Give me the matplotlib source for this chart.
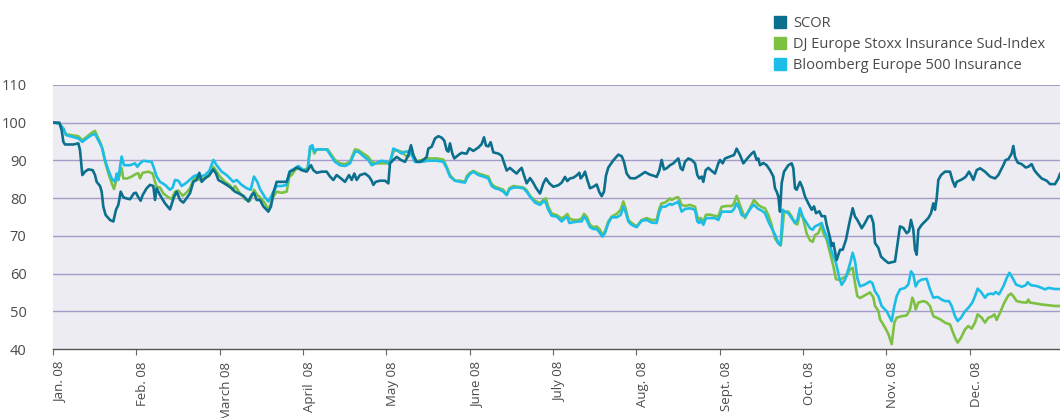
import matplotlib.pyplot as plt
from matplotlib.lines import Line2D

plt.rcParams['font.family'] = ['Open Sans', 'DejaVu Sans']

# x = position in months from 1 Jan 2008 (each month equally wide on the chart)
month_labels = ['Jan. 08', 'Feb. 08', 'March 08', 'April  08', 'May 08', 'June 08',
                'July 08', 'Aug. 08', 'Sept. 08', 'Oct. 08', 'Nov. 08', 'Dec. 08']

scor_x = [0.012, 0.076, 0.104, 0.124, 0.144, 0.244, 0.304, 0.324, 0.352, 0.384, 0.424, 0.476,
          0.504, 0.524, 0.564, 0.584, 0.604, 0.632, 0.684, 0.724, 0.756, 0.784, 0.812, 0.844,
          0.884, 0.924, 0.972, 0.996, 1.024, 1.052, 1.076, 1.124, 1.164, 1.204, 1.224, 1.244,
          1.284, 1.344, 1.404, 1.452, 1.484, 1.524, 1.564, 1.604, 1.644, 1.684, 1.724, 1.756,
          1.784, 1.824, 1.876, 1.924, 1.956, 1.984, 2.024, 2.084, 2.144, 2.184, 2.224, 2.284,
          2.344, 2.384, 2.412, 2.444, 2.484, 2.524, 2.584, 2.616, 2.644, 2.684, 2.744, 2.804,
          2.844, 2.884, 2.924, 2.984, 3.044, 3.096, 3.124, 3.164, 3.224, 3.284, 3.324, 3.364,
          3.404, 3.456, 3.504, 3.552, 3.584, 3.616, 3.644, 3.684, 3.744, 3.792, 3.824, 3.844,
          3.872, 3.924, 3.984, 4.024, 4.044, 4.084, 4.124, 4.176, 4.224, 4.264, 4.296, 4.324,
          4.364, 4.404, 4.444, 4.484, 4.504, 4.544, 4.584, 4.624, 4.664, 4.696, 4.724, 4.744,
          4.764, 4.792, 4.816, 4.864, 4.904, 4.944, 4.964, 4.996, 5.044, 5.104, 5.144, 5.172,
          5.196, 5.224, 5.252, 5.284, 5.344, 5.384, 5.424, 5.444, 5.484, 5.524, 5.564, 5.596,
          5.624, 5.652, 5.684, 5.724, 5.756, 5.796, 5.844, 5.884, 5.916, 5.956, 6.004, 6.064,
          6.104, 6.144, 6.172, 6.204, 6.244, 6.284, 6.316, 6.332, 6.364, 6.384, 6.412, 6.444,
          6.484, 6.524, 6.556, 6.584, 6.612, 6.636, 6.664, 6.724, 6.784, 6.824, 6.852, 6.884,
          6.924, 6.984, 7.044, 7.104, 7.164, 7.212, 7.244, 7.276, 7.304, 7.332, 7.364, 7.404,
          7.444, 7.484, 7.504, 7.532, 7.556, 7.584, 7.624, 7.664, 7.704, 7.732, 7.756, 7.784,
          7.804, 7.832, 7.864, 7.904, 7.944, 7.984, 8.004, 8.036, 8.064, 8.124, 8.172, 8.204,
          8.244, 8.284, 8.332, 8.384, 8.412, 8.444, 8.464, 8.484, 8.524, 8.564, 8.604, 8.644,
          8.664, 8.684, 8.704, 8.724, 8.744, 8.772, 8.824, 8.864, 8.884, 8.904, 8.924, 8.964,
          8.996, 9.024, 9.064, 9.104, 9.132, 9.156, 9.196, 9.224, 9.264, 9.284, 9.324, 9.344,
          9.364, 9.384, 9.404, 9.444, 9.476, 9.516, 9.556, 9.596, 9.624, 9.652, 9.684, 9.704,
          9.744, 9.784, 9.816, 9.844, 9.864, 9.904, 9.936, 9.984, 10.024, 10.064, 10.104, 10.136,
          10.164, 10.204, 10.244, 10.272, 10.296, 10.324, 10.344, 10.364, 10.384, 10.424, 10.464,
          10.504, 10.536, 10.564, 10.584, 10.604, 10.624, 10.656, 10.704, 10.764, 10.792, 10.824,
          10.844, 10.904, 10.952, 10.992, 11.016, 11.044, 11.084, 11.124, 11.184, 11.244, 11.304,
          11.344, 11.404, 11.432, 11.464, 11.504, 11.524, 11.544, 11.576, 11.624, 11.672, 11.704,
          11.744, 11.776, 11.816, 11.864, 11.924, 11.964, 12.024, 12.064, 12.084]
scor = [100, 100, 98.0, 94.9, 94.2, 94.2, 94.5, 92.7, 86.1, 87.0, 87.6, 87.4,
        86.1, 84.3, 83.2, 81.7, 77.7, 75.5, 74.2, 73.8, 76.9, 78.2, 81.7, 80.2,
        79.9, 79.7, 81.3, 81.4, 80.2, 79.3, 80.8, 82.6, 83.5, 83.2, 79.5, 82.6,
        80.8, 78.6, 77.0, 80.3, 81.7, 79.5, 78.8, 80.0, 81.3, 84.3, 84.8, 86.7,
        84.3, 85.2, 86.1, 87.6, 86.5, 84.8, 84.3, 83.5, 82.6, 81.7, 81.3, 80.6,
        79.1, 80.8, 81.4, 79.5, 79.5, 77.8, 76.4, 77.8, 81.3, 84.3, 84.3, 84.3,
        87.0, 87.4, 88.1, 87.4, 87.0, 88.7, 87.4, 86.7, 87.0, 87.0, 85.7, 84.8,
        86.1, 85.2, 84.3, 86.1, 84.8, 86.5, 84.8, 86.1, 86.5, 85.7, 84.6, 83.5,
        84.3, 84.6, 84.6, 83.9, 89.2, 90.1, 90.9, 90.1, 89.6, 91.4, 94.0, 91.4,
        89.6, 89.6, 90.1, 90.9, 93.1, 93.6, 95.8, 96.4, 96.0, 95.2, 92.7, 92.3,
        94.5, 91.8, 90.5, 91.4, 92.0, 91.8, 91.8, 93.2, 92.5, 93.4, 94.3, 96.1,
        93.9, 93.7, 94.8, 92.1, 91.8, 91.2, 88.6, 87.3, 88.0, 87.2, 86.5, 87.4,
        88.0, 86.0, 83.9, 85.3, 84.3, 82.7, 81.2, 83.9, 85.2, 83.9, 83.0, 83.4,
        84.1, 85.6, 84.5, 85.2, 85.4, 86.0, 86.7, 85.2, 86.1, 87.0, 84.8, 82.6,
        83.0, 83.6, 81.6, 80.5, 81.7, 86.0, 88.1, 90.0, 91.5, 91.1, 89.6, 86.5,
        85.3, 85.2, 86.0, 86.9, 86.2, 85.9, 85.6, 87.3, 90.1, 87.6, 87.9, 88.7,
        89.2, 90.1, 90.5, 87.9, 87.4, 89.6, 90.5, 90.1, 89.2, 86.1, 85.2, 85.7,
        84.3, 87.4, 88.0, 87.2, 86.5, 89.2, 90.1, 89.2, 90.5, 91.0, 91.4, 93.1,
        91.4, 89.2, 90.5, 91.8, 92.3, 90.1, 90.5, 88.7, 89.3, 88.7, 87.4, 85.7,
        82.6, 81.7, 80.4, 76.4, 83.9, 87.0, 88.7, 89.2, 87.9, 82.6, 82.2, 84.3,
        82.6, 80.4, 78.6, 76.9, 77.8, 76.0, 76.5, 75.2, 75.2, 72.9, 69.5, 67.3,
        68.1, 65.9, 63.6, 66.3, 66.3, 69.0, 73.4, 77.3, 75.1, 74.2, 72.9, 72.0,
        73.4, 75.1, 75.3, 73.4, 68.1, 66.8, 64.5, 63.5, 62.8, 63.0, 63.2, 68.1,
        72.5, 72.1, 70.7, 71.2, 74.2, 71.6, 66.3, 65.0, 71.6, 72.9, 73.8,
        74.7, 76.0, 78.6, 76.9, 79.9, 84.8, 86.1, 87.0, 87.0, 84.8, 83.0,
        84.3, 84.9, 85.6, 87.0, 86.1, 84.8, 87.4, 87.9, 87.0, 85.7, 85.2,
        86.1, 88.7, 90.1, 90.3, 91.8, 93.8, 90.9, 89.4, 89.0, 88.1, 88.3,
        89.0, 87.4, 86.3, 85.2, 84.6, 83.7, 83.7, 85.2, 86.4]

dj_x = [0.012, 0.076, 0.124, 0.156, 0.304, 0.352, 0.404, 0.464, 0.504, 0.524, 0.564, 0.596,
        0.624, 0.664, 0.704, 0.732, 0.764, 0.796, 0.824, 0.844, 0.892, 0.944, 0.996, 1.024,
        1.044, 1.076, 1.144, 1.196, 1.224, 1.244, 1.284, 1.324, 1.384, 1.424, 1.464, 1.504,
        1.556, 1.604, 1.644, 1.684, 1.724, 1.756, 1.804, 1.876, 1.924, 1.964, 2.004, 2.064,
        2.124, 2.156, 2.184, 2.244, 2.304, 2.364, 2.412, 2.452, 2.484, 2.544, 2.584, 2.616,
        2.644, 2.684, 2.744, 2.804, 2.836, 2.864, 2.904, 2.944, 3.004, 3.056, 3.084, 3.112,
        3.136, 3.164, 3.224, 3.296, 3.344, 3.384, 3.444, 3.504, 3.564, 3.624, 3.664, 3.724,
        3.784, 3.824, 3.872, 3.944, 4.004, 4.032, 4.056, 4.084, 4.124, 4.184, 4.224, 4.264,
        4.304, 4.344, 4.424, 4.504, 4.604, 4.684, 4.724, 4.764, 4.824, 4.884, 4.944, 4.964,
        5.004, 5.044, 5.104, 5.164, 5.224, 5.264, 5.304, 5.356, 5.404, 5.444, 5.476, 5.524,
        5.584, 5.644, 5.684, 5.724, 5.784, 5.844, 5.892, 5.916, 5.944, 5.984, 6.044, 6.104,
        6.144, 6.172, 6.196, 6.244, 6.304, 6.344, 6.372, 6.404, 6.444, 6.484, 6.524, 6.564,
        6.592, 6.624, 6.664, 6.704, 6.764, 6.812, 6.844, 6.876, 6.904, 6.944, 7.004, 7.064,
        7.124, 7.184, 7.244, 7.276, 7.304, 7.344, 7.384, 7.404, 7.424, 7.484, 7.504, 7.544,
        7.584, 7.644, 7.704, 7.732, 7.756, 7.772, 7.804, 7.836, 7.884, 7.944, 7.984, 8.024,
        8.084, 8.144, 8.172, 8.204, 8.236, 8.264, 8.304, 8.344, 8.384, 8.412, 8.464, 8.504,
        8.544, 8.584, 8.624, 8.664, 8.704, 8.732, 8.756, 8.772, 8.824, 8.864, 8.904, 8.932,
        8.964, 8.996, 9.044, 9.084, 9.116, 9.144, 9.184, 9.224, 9.244, 9.284, 9.324, 9.364,
        9.396, 9.444, 9.484, 9.524, 9.564, 9.596, 9.624, 9.652, 9.684, 9.724, 9.764, 9.804,
        9.844, 9.864, 9.904, 9.924, 9.984, 10.024, 10.064, 10.096, 10.124, 10.184, 10.244,
        10.284, 10.312, 10.336, 10.352, 10.384, 10.444, 10.484, 10.524, 10.564, 10.604, 10.644,
        10.704, 10.764, 10.824, 10.856, 10.896, 10.944, 10.984, 11.024, 11.064, 11.096, 11.144,
        11.184, 11.224, 11.264, 11.296, 11.324, 11.364, 11.416, 11.464, 11.496, 11.524, 11.564,
        11.624, 11.684, 11.704, 11.724, 11.784, 11.864, 11.944, 12.024, 12.084]
dj = [100, 99.7, 98.4, 96.9, 96.4, 95.3, 96.2, 97.3, 97.8, 96.7, 94.9, 92.9,
      89.7, 86.6, 84.0, 82.4, 85.2, 85.7, 87.9, 85.2, 85.2, 85.7, 86.4, 86.6,
      85.2, 86.7, 87.0, 86.5, 84.3, 83.0, 82.8, 81.2, 80.2, 79.7, 81.7, 82.0,
      80.6, 81.5, 82.6, 84.8, 85.7, 84.8, 85.2, 85.9, 88.3, 87.0, 85.7, 84.3,
      83.4, 82.1, 83.2, 81.3, 79.7, 79.3, 82.2, 80.8, 80.2, 78.6, 76.9, 78.6,
      80.4, 81.7, 81.4, 81.7, 85.7, 86.1, 87.4, 88.1, 87.4, 87.9, 92.7, 93.6,
      91.8, 92.9, 92.9, 92.9, 91.4, 90.1, 89.2, 89.0, 89.6, 92.9, 92.7, 91.8,
      90.9, 89.6, 89.2, 89.2, 89.2, 89.6, 90.1, 92.3, 92.7, 92.3, 91.4, 90.9,
      92.9, 89.6, 90.1, 90.5, 90.5, 90.2, 88.3, 86.1, 84.6, 84.6, 84.3, 85.8,
      86.7, 87.2, 86.5, 86.1, 85.7, 83.7, 83.0, 82.6, 82.2, 80.8, 82.6, 83.2,
      83.0, 82.8, 82.1, 80.6, 79.3, 78.6, 79.7, 79.9, 77.7, 75.9, 75.5, 74.6,
      75.2, 75.8, 74.6, 74.2, 74.2, 74.6, 75.8, 75.1, 72.9, 72.3, 72.5, 71.6,
      70.3, 71.2, 73.8, 75.1, 75.8, 76.9, 79.1, 76.9, 74.2, 73.4, 72.5, 74.2,
      74.7, 74.2, 74.2, 77.3, 78.6, 78.8, 79.5, 79.9, 79.5, 80.2, 80.2, 78.2,
      77.9, 78.2, 77.7, 75.1, 74.2, 74.7, 73.8, 75.6, 75.6, 75.3, 75.1, 77.7,
      77.9, 77.9, 78.6, 80.6, 78.6, 76.9, 74.7, 76.4, 78.2, 79.5, 78.2, 77.6,
      77.3, 75.5, 72.9, 69.3, 68.0, 67.4, 72.3, 76.4, 76.4, 75.1, 73.4, 73.0,
      76.0, 75.1, 70.6, 68.8, 68.4, 70.2, 70.7, 72.9, 70.7, 69.0, 65.5, 62.0,
      58.5, 58.3, 58.9, 59.3, 61.1, 61.5, 57.5, 54.0, 53.5, 54.0, 54.5, 55.0,
      53.7, 51.4, 50.1, 47.9, 45.7, 44.0, 41.3, 47.0, 48.3, 48.7, 48.9,
      50.5, 53.6, 52.3, 50.5, 52.3, 52.7, 52.4, 51.4, 48.7, 48.3, 47.9,
      47.0, 46.5, 43.0, 41.7, 43.0, 45.2, 46.1, 45.4, 47.0, 49.2, 48.3,
      47.0, 48.3, 48.6, 49.2, 47.7, 49.6, 52.3, 54.2, 54.7, 54.0, 52.7,
      52.4, 52.3, 53.1, 52.3, 52.1, 51.8, 51.6, 51.4, 51.4]

bb_x = [0.012, 0.076, 0.124, 0.156, 0.304, 0.352, 0.404, 0.464, 0.504, 0.544, 0.584, 0.624,
        0.664, 0.704, 0.744, 0.764, 0.784, 0.804, 0.824, 0.852, 0.924, 0.984, 1.012, 1.044,
        1.084, 1.184, 1.212, 1.244, 1.284, 1.344, 1.404, 1.436, 1.464, 1.504, 1.544, 1.604,
        1.684, 1.724, 1.764, 1.824, 1.876, 1.924, 1.964, 2.024, 2.084, 2.124, 2.164, 2.204,
        2.264, 2.324, 2.372, 2.412, 2.452, 2.484, 2.544, 2.584, 2.616, 2.644, 2.684, 2.744,
        2.804, 2.836, 2.864, 2.904, 2.944, 3.004, 3.056, 3.084, 3.112, 3.136, 3.164, 3.224,
        3.284, 3.344, 3.384, 3.444, 3.504, 3.564, 3.624, 3.664, 3.724, 3.784, 3.824, 3.872,
        3.944, 4.004, 4.032, 4.056, 4.084, 4.124, 4.184, 4.224, 4.272, 4.304, 4.344, 4.424,
        4.504, 4.604, 4.684, 4.724, 4.764, 4.824, 4.884, 4.944, 4.964, 5.004, 5.044, 5.104,
        5.164, 5.224, 5.264, 5.304, 5.356, 5.404, 5.444, 5.476, 5.524, 5.584, 5.644, 5.684,
        5.724, 5.784, 5.844, 5.892, 5.916, 5.944, 5.984, 6.044, 6.104, 6.144, 6.172, 6.196,
        6.244, 6.304, 6.344, 6.372, 6.404, 6.444, 6.484, 6.524, 6.564, 6.592, 6.624, 6.664,
        6.704, 6.764, 6.812, 6.844, 6.876, 6.904, 6.944, 7.004, 7.064, 7.124, 7.184, 7.244,
        7.276, 7.304, 7.344, 7.384, 7.404, 7.424, 7.484, 7.504, 7.544, 7.584, 7.644, 7.704,
        7.732, 7.756, 7.772, 7.804, 7.836, 7.884, 7.944, 7.984, 8.024, 8.084, 8.144, 8.172,
        8.204, 8.236, 8.264, 8.304, 8.344, 8.384, 8.412, 8.464, 8.504, 8.544, 8.584, 8.624,
        8.664, 8.704, 8.732, 8.756, 8.784, 8.824, 8.864, 8.904, 8.932, 8.964, 8.996, 9.044,
        9.084, 9.116, 9.144, 9.184, 9.224, 9.244, 9.284, 9.324, 9.364, 9.396, 9.436, 9.464,
        9.504, 9.544, 9.572, 9.596, 9.624, 9.652, 9.684, 9.744, 9.804, 9.832, 9.864, 9.904,
        9.944, 10.004, 10.044, 10.064, 10.096, 10.124, 10.164, 10.224, 10.264, 10.296, 10.324,
        10.352, 10.384, 10.424, 10.484, 10.524, 10.564, 10.616, 10.664, 10.704, 10.752, 10.784,
        10.824, 10.856, 10.896, 10.944, 10.984, 11.032, 11.064, 11.096, 11.136, 11.184, 11.216,
        11.264, 11.284, 11.312, 11.352, 11.404, 11.444, 11.476, 11.516, 11.556, 11.624, 11.672,
        11.696, 11.736, 11.804, 11.864, 11.904, 11.944, 12.024, 12.084]
bb = [100, 99.7, 98.4, 96.7, 95.8, 94.9, 95.8, 96.7, 97.0, 95.3, 93.6, 90.1,
      87.4, 85.2, 84.3, 86.5, 84.8, 88.3, 91.0, 88.7, 88.7, 89.2, 88.3, 89.2,
      89.9, 89.6, 87.9, 85.7, 84.3, 83.5, 82.2, 82.8, 84.8, 84.6, 83.2, 84.1,
      85.7, 86.1, 85.7, 86.1, 87.2, 90.1, 88.7, 87.0, 86.1, 85.2, 84.3, 84.8,
      83.5, 82.6, 82.2, 85.7, 84.3, 82.4, 80.2, 79.1, 80.4, 81.7, 83.2, 83.2,
      83.5, 87.0, 87.4, 87.9, 88.5, 87.4, 87.4, 93.6, 94.0, 92.3, 92.9, 92.9,
      92.9, 90.9, 89.6, 88.7, 88.5, 89.2, 92.3, 92.3, 91.1, 90.1, 88.7, 89.2,
      89.9, 89.6, 89.0, 90.5, 93.1, 92.7, 91.8, 92.3, 92.3, 91.4, 89.6, 89.6,
      89.9, 89.9, 89.6, 87.9, 85.7, 84.6, 84.3, 84.1, 85.2, 86.4, 87.0, 86.1,
      85.7, 85.2, 83.2, 82.6, 82.3, 81.7, 80.8, 82.3, 82.8, 82.8, 82.6, 81.7,
      80.4, 78.8, 78.2, 79.3, 78.6, 76.9, 75.3, 75.1, 73.8, 74.7, 74.9, 73.4,
      73.6, 73.8, 73.8, 75.1, 74.2, 72.3, 71.8, 71.8, 70.7, 69.8, 70.7, 73.4,
      74.9, 74.9, 75.5, 77.7, 76.0, 73.8, 72.9, 72.3, 74.0, 74.2, 73.5, 73.4,
      76.4, 77.7, 77.7, 78.2, 78.5, 78.2, 78.8, 79.1, 76.4, 77.1, 77.3, 76.9,
      73.8, 73.4, 74.2, 72.9, 74.7, 74.7, 74.7, 74.2, 76.4, 76.4, 76.4, 77.1,
      78.6, 77.3, 75.5, 75.1, 76.4, 77.7, 78.2, 77.1, 76.7, 76.0, 73.8, 72.0,
      70.3, 68.0, 67.6, 76.9, 76.4, 76.0, 74.7, 73.4, 74.2, 77.3, 75.1, 73.4,
      72.0, 71.6, 72.5, 72.9, 73.4, 72.0, 69.8, 67.2, 64.6, 62.8, 58.8, 57.0,
      58.4, 61.1, 63.3, 65.5, 63.3, 58.8, 56.6, 57.1, 57.9, 57.5, 55.3, 54.0,
      51.4, 50.0, 48.3, 47.4, 51.4, 54.0, 55.8, 56.2, 57.1, 60.6, 59.7,
      56.6, 57.9, 58.4, 58.6, 55.8, 53.6, 53.8, 53.1, 52.7, 52.7, 51.4,
      48.7, 47.4, 48.3, 50.0, 50.9, 52.3, 54.0, 56.0, 55.1, 53.6, 54.5,
      54.7, 54.5, 55.1, 54.5, 56.6, 58.8, 60.2, 58.8, 57.1, 56.5, 56.9,
      57.7, 56.9, 56.7, 56.2, 55.8, 56.2, 55.9, 55.9]

c_scor = '#0b6f8d'
c_dj = '#7dc143'
c_bb = '#1cbde6'
grid_c = '#a29cc6'
text_c = '#4a4a4a'

fig = plt.figure(figsize=(10.6, 4.18), dpi=100)
ax = fig.add_axes([0.05, 0.165, 0.95, 0.632])
ax.set_facecolor('#edecf3')

ax.plot(dj_x, dj, color=c_dj, lw=1.9, solid_joinstyle='round', zorder=3)
ax.plot(bb_x, bb, color=c_bb, lw=1.9, solid_joinstyle='round', zorder=4)
ax.plot(scor_x, scor, color=c_scor, lw=1.9, solid_joinstyle='round', zorder=5)

ax.set_xlim(0, 12.084)
ax.set_ylim(40, 110)
ax.set_yticks(range(40, 111, 10))
for v in range(50, 111, 10):
    ax.axhline(v, color=grid_c, lw=1.4 if v == 110 else 1.0, zorder=1)

ax.set_xticks(range(12))
ax.set_xticklabels(month_labels, rotation=90, ha='left', va='top')
ax.tick_params(axis='x', direction='out', length=4, width=0.8, color='#666666',
               pad=5, labelsize=9.5, labelcolor=text_c)
ax.tick_params(axis='y', length=0, pad=19, labelsize=10.5, labelcolor=text_c)

for s in ['top', 'right', 'left']:
    ax.spines[s].set_visible(False)
ax.spines['bottom'].set_color('#555555')
ax.spines['bottom'].set_linewidth(1.0)

handles = [Line2D([], [], ls='none', marker='s', markersize=9, color=c)
           for c in [c_scor, c_dj, c_bb]]
fig.legend(handles, ['SCOR', 'DJ Europe Stoxx Insurance Sud-Index', 'Bloomberg Europe 500 Insurance'],
           loc='upper left', bbox_to_anchor=(0.722, 0.98), frameon=False, borderpad=0,
           handlelength=1.0, handletextpad=0.4, labelspacing=0.42, fontsize=10.5,
           labelcolor=text_c)

fig.savefig('out.png', dpi=100)
